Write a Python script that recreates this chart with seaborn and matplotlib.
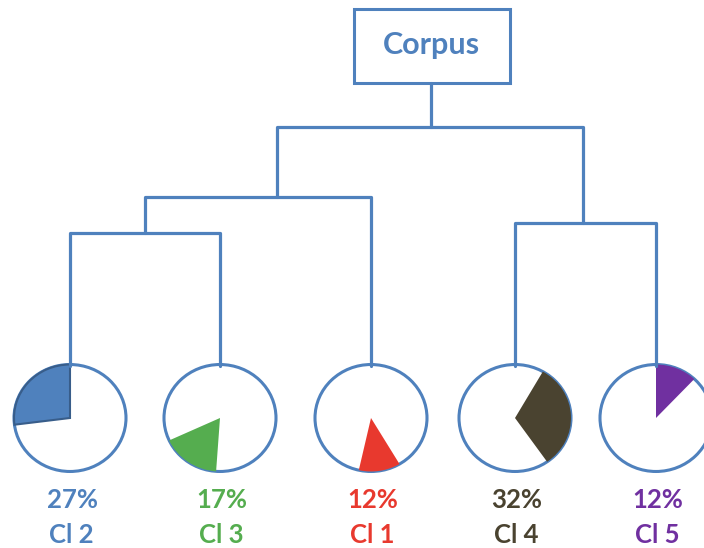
import matplotlib
matplotlib.use('Agg')
import matplotlib.pyplot as plt
from matplotlib.patches import Wedge, Ellipse, Rectangle
from matplotlib.transforms import Affine2D
import seaborn as sns

sns.set_theme(style='white')
plt.rcParams['font.family'] = ['Lato', 'DejaVu Sans']

# cluster data, left to right as drawn
clusters = ['Cl 2', 'Cl 3', 'Cl 1', 'Cl 4', 'Cl 5']
shares = [27, 17, 12, 32, 12]
colors = ['#4F81BD', '#55AD4F', '#E8392E', '#4A4330', '#7030A0']
root_label = 'Corpus'

# layout (pixel coords, y down)
leaf_x = [70, 220, 371, 515, 656]
leaf_y = 418
start_angle = [90, 204.8, 257.4, -55, 46.8]
line_col = '#4F81BD'
R = 56

fig = plt.figure(figsize=(7.04, 5.48), dpi=100)
ax = fig.add_axes([0, 0, 1, 1])
ax.set_xlim(0, 704)
ax.set_ylim(548, 0)
ax.axis('off')


def link(xs, ys):
    sns.lineplot(x=xs, y=ys, sort=False, estimator=None,
                 color=line_col, lw=2.3, ax=ax)


top = leaf_y - 52
link([leaf_x[0], leaf_x[0], leaf_x[1], leaf_x[1]], [top, 233, 233, top])
link([145, 145, leaf_x[2], leaf_x[2]], [233, 197, 197, top])
link([leaf_x[3], leaf_x[3], leaf_x[4], leaf_x[4]], [top, 223, 223, top])
link([277, 277, 583, 583], [197, 127, 127, 223])
link([431, 431], [127, 83])

ax.add_patch(Rectangle((354, 9), 156, 74, fill=False, ec=line_col, lw=2.2))
ax.text(431, 45, root_label, ha='center', va='center', color='#4F81BD',
        fontsize=22, fontweight='bold')

for i, name in enumerate(clusters):
    cx = leaf_x[i]
    tr = Affine2D().scale(1, -0.955).translate(cx, leaf_y) + ax.transData
    ax.add_patch(Ellipse((0, 0), 2 * R, 2 * R, fc='white', ec=line_col, lw=2.2, transform=tr))
    th1 = start_angle[i]
    th2 = th1 + shares[i] * 3.6
    ec = '#385D8A' if i == 0 else 'none'
    ax.add_patch(Wedge((0, 0), R, th1, th2, fc=colors[i], ec=ec, lw=1.5, transform=tr))
    ax.text(cx + 2, 500, f'{shares[i]}%', ha='center', va='center', color=colors[i],
            fontsize=18.5, fontweight='bold')
    ax.text(cx + 1, 535, name, ha='center', va='center', color=colors[i],
            fontsize=18.5, fontweight='bold')

fig.savefig('out.png', dpi=100)
